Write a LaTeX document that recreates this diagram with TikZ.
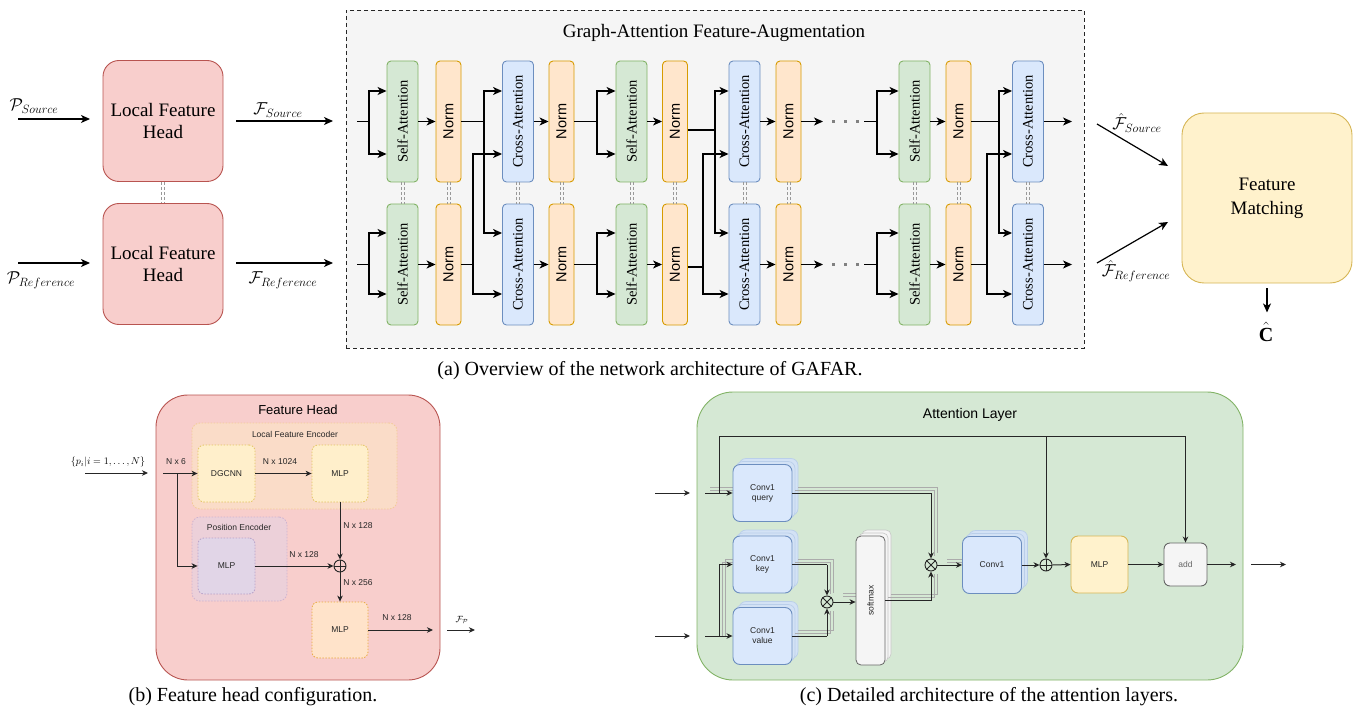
\documentclass[tikz,border=0pt]{standalone}
\usepackage{fontspec}
\setmainfont{Liberation Serif}
\setsansfont{Liberation Sans}
\usepackage{graphicx}
\usetikzlibrary{arrows.meta,calc}
\definecolor{saF}{HTML}{D5E8D4}\definecolor{saD}{HTML}{82B366}
\definecolor{nF}{HTML}{FFE6CC}\definecolor{nD}{HTML}{D79B00}
\definecolor{caF}{HTML}{DAE8FC}\definecolor{caD}{HTML}{6C8EBF}
\definecolor{rF}{HTML}{F8CECC}\definecolor{rD}{HTML}{B85450}
\definecolor{yF}{HTML}{FFF2CC}\definecolor{yD}{HTML}{D6B656}
\definecolor{gF}{HTML}{F5F5F5}\definecolor{gD}{HTML}{666666}
\definecolor{pF}{HTML}{E1D5E7}\definecolor{pD}{HTML}{B7A0C8}
\definecolor{lfeF}{HTML}{FADCC8}\definecolor{lfeD}{HTML}{F3CB98}
\definecolor{peF}{HTML}{ECD0D9}\definecolor{peD}{HTML}{CFB3CF}
\definecolor{dgF}{HTML}{FFEFCB}\definecolor{dgD}{HTML}{E3C460}
\definecolor{m2F}{HTML}{FFE3CA}\definecolor{m2D}{HTML}{E9A93C}
\definecolor{shF}{HTML}{D3E2F5}\definecolor{shD}{HTML}{BACFEA}
\definecolor{shl}{HTML}{ABABAB}
\begin{document}
\begin{tikzpicture}[x=1pt,y=-1pt,
  ser/.style={font=\fontsize{19}{22}\selectfont},
  captxt/.style={font=\fontsize{20}{23}\selectfont},
  mth/.style={font=\fontsize{17.5}{20}\selectfont},
  blk/.style={rounded corners=4pt,line width=0.9pt,inner sep=0pt,minimum height=121pt},
  sab/.style={blk,draw=saD,fill=saF,minimum width=31pt,font=\fontsize{14.5}{16}\selectfont},
  cab/.style={blk,draw=caD,fill=caF,minimum width=31pt,font=\fontsize{14.5}{16}\selectfont},
  nb/.style={blk,draw=nD,fill=nF,minimum width=25pt,font=\sffamily\fontsize{14.5}{16}\selectfont},
  lfh/.style={draw=rD,fill=rF,line width=0.9pt,rounded corners=16pt,minimum width=120pt,minimum height=121pt,align=center,font=\fontsize{19}{22}\selectfont},
  ln/.style={line width=1.2pt},
  ar/.style={line width=1.2pt,-{Stealth[length=9pt,width=8pt,inset=2.5pt]}},
  dbl/.style={draw=gray!80,line width=0.8pt,dash pattern=on 3pt off 2pt},
  sm/.style={font=\sffamily\fontsize{8.5}{10}\selectfont,text=black!85},
  sln/.style={line width=1pt,draw=black!85},
  sar/.style={line width=1pt,draw=black!85,-{Stealth[length=6pt,width=5.5pt,inset=1.8pt]}},
  dotb/.style={line width=0.8pt,dash pattern=on 1.5pt off 1.5pt,rounded corners=6pt,inner sep=0pt},
  conv/.style={draw=caD,fill=caF,line width=0.9pt,rounded corners=7pt,minimum width=59pt,minimum height=57pt,inner sep=0pt,sm,align=center},
  convsh/.style={draw=shD,fill=shF,line width=0.7pt,rounded corners=7pt,minimum width=59pt,minimum height=57pt,inner sep=0pt},
  shadowln/.style={line width=0.5pt,draw=shl},
  opl/.style={circle,draw=black!85,line width=0.9pt,minimum size=12pt,inner sep=0pt}
]
\useasboundingbox (0,0) rectangle (1359,711);

%================ (a) =================
\node[draw=black!85,fill=gF,line width=0.9pt,dash pattern=on 4pt off 3pt,minimum width=738pt,minimum height=338pt,inner sep=0pt] (gafa) at (715,179) {};
\node[ser] (gtitle) at (714,33) {Graph-Attention Feature-Augmentation};

\node[lfh] (lfh1) at (163,121) {Local Feature\\Head};
\node[lfh] (lfh2) at (163,264) {Local Feature\\Head};
\draw[dbl] ([xshift=-1.5pt]lfh1.south) -- ([xshift=-1.5pt]lfh2.north);
\draw[dbl] ([xshift=1.5pt]lfh1.south) -- ([xshift=1.5pt]lfh2.north);

\coordinate (ps0) at (18,119); \coordinate (ps1) at (90,119);
\coordinate (pr0) at (18,263); \coordinate (pr1) at (90,263);
\draw[ar] (ps0) -- (ps1);
\draw[ar] (pr0) -- (pr1);
\node[mth] (psl) at (34,106) {$\mathcal{P}_{Source}$};
\node[mth] (prl) at (41,280) {$\mathcal{P}_{Reference}$};
\coordinate (fs0) at (236,121); \coordinate (fs1) at (333,121);
\coordinate (fr0) at (236,263); \coordinate (fr1) at (333,263);
\draw[ar] (fs0) -- (fs1);
\draw[ar] (fr0) -- (fr1);
\node[mth] (fsl) at (278,110) {$\mathcal{F}_{Source}$};
\node[mth] (frl) at (283,280) {$\mathcal{F}_{Reference}$};

\foreach \nm/\st/\xx/\tx in {sa1/sab/402.5/Self-Attention, n1/nb/448.5/Norm, ca1/cab/518/Cross-Attention, n2/nb/561.5/Norm, sa2/sab/631.5/Self-Attention, n3/nb/675/Norm, ca2/cab/744.5/Cross-Attention, n4/nb/788.5/Norm, sa3/sab/914.5/Self-Attention, n5/nb/958.5/Norm, ca3/cab/1028/Cross-Attention}{
  \node[\st] (\nm t) at (\xx,121.5) {\rotatebox{90}{\tx}};
  \node[\st] (\nm b) at (\xx,264.5) {\rotatebox{90}{\tx}};
  \draw[dbl] ([xshift=-1.5pt]\nm t.south) -- ([xshift=-1.5pt]\nm b.north);
  \draw[dbl] ([xshift=1.5pt]\nm t.south) -- ([xshift=1.5pt]\nm b.north);
}

\coordinate (yu1) at (0,91);
\coordinate (yu2) at (0,154);
\coordinate (yd1) at (0,233);
\coordinate (yd2) at (0,294);

\coordinate (i1t) at (357,121.5); \coordinate (b1t) at (369,121.5);
\coordinate (i1b) at (357,264.5); \coordinate (b1b) at (369,264.5);
\draw[ln] (i1t) -- (b1t); \draw[ln] (i1b) -- (b1b);
\draw[ar] (b1t) |- (sa1t.west |- yu1); \draw[ar] (b1t) |- (sa1t.west |- yu2);
\draw[ar] (b1b) |- (sa1b.west |- yd1); \draw[ar] (b1b) |- (sa1b.west |- yd2);
\draw[ar] (sa1t) -- (n1t); \draw[ar] (sa1b) -- (n1b);
\coordinate (j1t) at (484,121.5); \coordinate (j1b) at (473,264.5);
\draw[ln] (n1t.east) -- (j1t); \draw[ln] (n1b.east) -- (j1b);
\draw[ar] (j1t) |- (ca1t.west |- yu1); \draw[ar] (j1t) |- (ca1b.west |- yd1);
\draw[ar] (j1b) |- (ca1t.west |- yu2); \draw[ar] (j1b) |- (ca1b.west |- yd2);
\draw[ar] (ca1t) -- (n2t); \draw[ar] (ca1b) -- (n2b);
\coordinate (b2t) at (597,121.5); \coordinate (b2b) at (597,264.5);
\draw[ln] (n2t.east) -- (b2t); \draw[ln] (n2b.east) -- (b2b);
\draw[ar] (b2t) |- (sa2t.west |- yu1); \draw[ar] (b2t) |- (sa2t.west |- yu2);
\draw[ar] (b2b) |- (sa2b.west |- yd1); \draw[ar] (b2b) |- (sa2b.west |- yd2);
\draw[ar] (sa2t) -- (n3t); \draw[ar] (sa2b) -- (n3b);
\coordinate (j2t) at (715,130); \coordinate (j2b) at (703,267);
\draw[ln] (n3t.east |- j2t) -- (j2t); \draw[ln] (n3b.east |- j2b) -- (j2b);
\draw[ar] (j2t) |- (ca2t.west |- yu1); \draw[ar] (j2t) |- (ca2b.west |- yd1);
\draw[ar] (j2b) |- (ca2t.west |- yu2); \draw[ar] (j2b) |- (ca2b.west |- yd2);
\draw[ar] (ca2t) -- (n4t); \draw[ar] (ca2b) -- (n4b);
\coordinate (d1t) at (823,121.5); \coordinate (d1b) at (823,264.5);
\coordinate (d2t) at (832,121.5); \coordinate (d2b) at (832,264.5);
\coordinate (d3t) at (862,121.5); \coordinate (d3b) at (862,264.5);
\coordinate (d4t) at (864,121.5); \coordinate (d4b) at (864,264.5);
\coordinate (b3t) at (877,121.5); \coordinate (b3b) at (877,264.5);
\draw[ar] (n4t.east) -- (d1t); \draw[ar] (n4b.east) -- (d1b);
\draw[line width=3pt,draw=gray,dash pattern=on 3pt off 9pt] (d2t) -- (d3t);
\draw[line width=3pt,draw=gray,dash pattern=on 3pt off 9pt] (d2b) -- (d3b);
\draw[ln] (d4t) -- (b3t); \draw[ln] (d4b) -- (b3b);
\draw[ar] (b3t) |- (sa3t.west |- yu1); \draw[ar] (b3t) |- (sa3t.west |- yu2);
\draw[ar] (b3b) |- (sa3b.west |- yd1); \draw[ar] (b3b) |- (sa3b.west |- yd2);
\draw[ar] (sa3t) -- (n5t); \draw[ar] (sa3b) -- (n5b);
\coordinate (j3t) at (999,121.5); \coordinate (j3b) at (987,264.5);
\draw[ln] (n5t.east) -- (j3t); \draw[ln] (n5b.east) -- (j3b);
\draw[ar] (j3t) |- (ca3t.west |- yu1); \draw[ar] (j3t) |- (ca3b.west |- yd1);
\draw[ar] (j3b) |- (ca3t.west |- yu2); \draw[ar] (j3b) |- (ca3b.west |- yd2);
\coordinate (o1t) at (1072,121.5); \coordinate (o1b) at (1072,264.5);
\draw[ar] (ca3t) -- (o1t); \draw[ar] (ca3b) -- (o1b);

\node[draw=yD,fill=yF,line width=0.9pt,rounded corners=22pt,minimum width=170pt,minimum height=170pt,align=center,font=\fontsize{19}{24}\selectfont] (fm) at (1267,198) {Feature\\Matching};
\coordinate (hs0) at (1097,124); \coordinate (hs1) at (1168,166);
\coordinate (hr0) at (1097,263); \coordinate (hr1) at (1168,222);
\draw[ar] (hs0) -- (hs1);
\draw[ar] (hr0) -- (hr1);
\node[mth] (hsl) at (1137,123) {$\hat{\mathcal{F}}_{Source}$};
\node[mth] (hrl) at (1136,271) {$\hat{\mathcal{F}}_{Reference}$};
\node[font=\fontsize{20}{23}\selectfont] (chat) at (1266,332) {$\hat{\mathbf{C}}$};
\draw[ar] ($(fm.south)+(0,5)$) -- ($(fm.south)+(0,29)$);

\node[captxt] (capa) at (650,371) {(a) Overview of the network architecture of GAFAR.};

%================ (b) =================
\node[draw=rD,fill=rF,line width=0.9pt,rounded corners=32pt,minimum width=284pt,minimum height=285pt,inner sep=0pt] (fh) at (298,537.5) {};
\node[font=\sffamily\fontsize{13}{15}\selectfont] (fht) at (298,410) {Feature Head};
\node[dotb,draw=lfeD,fill=lfeF,minimum width=205pt,minimum height=86pt,rounded corners=8pt] (lfe) at (294.5,466) {};
\node[sm] (lfet) at (295,434) {Local Feature Encoder};
\node[dotb,draw=peD,fill=peF,minimum width=95pt,minimum height=84pt,rounded corners=8pt] (pe) at (239.5,559) {};
\node[sm] (pet) at (239,527) {Position Encoder};
\node[dotb,draw=dgD,fill=dgF,minimum width=57pt,minimum height=57pt,sm] (dg) at (226.5,473.5) {DGCNN};
\node[dotb,draw=dgD,fill=dgF,minimum width=56pt,minimum height=57pt,sm] (m1) at (340,473.5) {MLP};
\node[dotb,draw=pD,fill=pF,minimum width=57pt,minimum height=56pt,sm] (mp) at (226.5,566) {MLP};
\node[dotb,draw=m2D,fill=m2F,minimum width=56pt,minimum height=56pt,sm] (m2) at (340,630) {MLP};
\node[opl] (op) at (340,566) {};
\draw[line width=0.9pt,black!85] (op.north) -- (op.south) (op.west) -- (op.east);

\coordinate (pin0) at (85,473); \coordinate (pin1) at (148,473);
\draw[sar] (pin0) -- (pin1);
\node[font=\fontsize{10}{12}\selectfont] (pinl) at (108,462) {$\{p_i|i=1,\ldots,N\}$};
\coordinate (pin2) at (163,473.5); \coordinate (pbr) at (177,473.5);
\draw[sar] (pin2) -- (dg.west);
\draw[sar] (pbr) |- (mp.west);
\node[sm] (l6) at (176,462) {N x 6};
\draw[sar] (dg.east) -- (m1.west);
\node[sm] (l1024) at (280,462) {N x 1024};
\draw[sar] (m1.south) -- (op.north);
\node[sm] (l128a) at (358,526) {N x 128};
\draw[sar] (mp.east) -- (op.west);
\node[sm] (l128b) at (304,555) {N x 128};
\draw[sar] (op.south) -- (m2.north);
\node[sm] (l256) at (358,583) {N x 256};
\coordinate (fo1) at (433,630);
\draw[sar] (m2.east) -- (fo1);
\node[sm] (l128c) at (397,618) {N x 128};
\coordinate (fo2) at (447,630); \coordinate (fo3) at (475,630);
\draw[sar] (fo2) -- (fo3);
\node[font=\fontsize{9}{11}\selectfont] (fpl) at (462,620) {$\mathcal{F}_\mathcal{P}$};

\node[captxt] (capb) at (253,697) {(b) Feature head configuration.};

%================ (c) =================
\node[draw=saD,fill=saF,line width=0.9pt,rounded corners=36pt,minimum width=546pt,minimum height=288pt,inner sep=0pt] (al) at (970,536) {};
\node[font=\sffamily\fontsize{14}{16}\selectfont] (alt) at (970,415) {Attention Layer};

\foreach \cx/\cy in {762.5/493, 762.5/564.5, 762.5/636, 992/565}{
  \node[convsh] at (\cx+6,\cy-6) {};
  \node[convsh] at (\cx+3,\cy-3) {};
}
\node[draw=gray!45,fill=gray!8,line width=0.6pt,rounded corners=5pt,minimum width=29pt,minimum height=129pt] at (876.5,594.5) {};
\node[draw=gray!45,fill=gray!8,line width=0.6pt,rounded corners=5pt,minimum width=29pt,minimum height=129pt] at (873.5,597.5) {};

\draw[shadowln] (798,487) -- (937,487) -- (937,553);
\draw[shadowln] (795,490) -- (934,490) -- (934,556);
\draw[shadowln] (891,594) -- (937,594) -- (937,574);
\draw[shadowln] (888,597) -- (934,597) -- (934,574);
\draw[shadowln] (798,559) -- (833,559) -- (833,593);
\draw[shadowln] (795,562) -- (830,562) -- (830,594);
\draw[shadowln] (795,633) -- (830,633) -- (830,611);
\draw[shadowln] (798,630) -- (833,630) -- (833,611);
\draw[shadowln] (725,636) -- (725,559) -- (736,559);
\draw[shadowln] (722,636) -- (722,562) -- (736,562);
\draw[shadowln] (843,596) -- (858,596);
\draw[shadowln] (843,593) -- (861,593);
\draw[shadowln] (947,559) -- (966,559);
\draw[shadowln] (947,562) -- (963,562);
\draw[shadowln] (710,490) -- (736,490);
\draw[shadowln] (710,487) -- (739,487);

\node[conv] (q) at (762.5,493) {Conv1\\query};
\node[conv] (k) at (762.5,564.5) {Conv1\\key};
\node[conv] (v) at (762.5,636) {Conv1\\value};
\node[draw=gD,fill=gF,line width=0.8pt,rounded corners=5pt,minimum width=29pt,minimum height=129pt,inner sep=0pt,sm] (sfm) at (870.5,600.5) {\rotatebox{90}{softmax}};
\node[conv] (c1) at (992,565) {Conv1};
\node[draw=yD,fill=yF,line width=0.9pt,rounded corners=7pt,minimum width=57pt,minimum height=57pt,inner sep=0pt,sm] (mlp) at (1099.5,564.5) {MLP};
\node[draw=gD,fill=gF,line width=0.9pt,rounded corners=6pt,minimum width=43pt,minimum height=43pt,inner sep=0pt,sm,text=gD] (add) at (1185.5,564.5) {add};

\node[opl] (ot1) at (827,602) {};
\draw[line width=0.9pt,black!85] (ot1.north west) -- (ot1.south east) (ot1.north east) -- (ot1.south west);
\node[opl] (ot2) at (931,565) {};
\draw[line width=0.9pt,black!85] (ot2.north west) -- (ot2.south east) (ot2.north east) -- (ot2.south west);
\node[opl] (op2) at (1046,565) {};
\draw[line width=0.9pt,black!85] (op2.north) -- (op2.south) (op2.west) -- (op2.east);

\coordinate (ci1a) at (655,493); \coordinate (ci1b) at (690,493);
\coordinate (ci2a) at (655,636); \coordinate (ci2b) at (690,636);
\draw[sar] (ci1a) -- (ci1b);
\draw[sar] (ci2a) -- (ci2b);
\coordinate (qi) at (705,493); \coordinate (qbr) at (719,493);
\coordinate (top1) at (719,436); \coordinate (top2) at (1046,436); \coordinate (top3) at (1185.5,436);
\draw[sar] (qi) -- (q.west);
\draw[sln] (qbr) -- (top1) -- (top3);
\draw[sar] (top3) -- (add.north);
\draw[sar] (top2) -- (op2.north);
\coordinate (vi) at (705,636); \coordinate (vbr) at (719,636);
\draw[sar] (vi) -- (v.west);
\draw[sar] (vbr) |- (k.west);
\coordinate (kc) at (827,564.5); \coordinate (vc) at (827,636);
\draw[sln] (k.east) -- (kc);
\draw[sar] (kc) -- (ot1.north);
\draw[sln] (v.east) -- (vc);
\draw[sar] (vc) -- (ot1.south);
\draw[sar] (ot1.east) -- (sfm.west |- ot1);
\coordinate (sc) at (931,600.5);
\draw[sln] (sfm.east |- sc) -- (sc);
\draw[sar] (sc) -- (ot2.south);
\coordinate (qc) at (931,493);
\draw[sln] (q.east) -- (qc);
\draw[sar] (qc) -- (ot2.north);
\draw[sar] (ot2.east) -- (c1.west);
\draw[sar] (c1.east) -- (op2.west);
\draw[sar] (op2.east) -- (mlp.west);
\draw[sar] (mlp.east) -- (add.west);
\coordinate (ao1) at (1236,564.5);
\draw[sar] (add.east) -- (ao1);
\coordinate (ao2) at (1251,564.5); \coordinate (ao3) at (1286,564.5);
\draw[sar] (ao2) -- (ao3);

\node[captxt] (capc) at (989,697) {(c) Detailed architecture of the attention layers.};
\end{tikzpicture}
\end{document}
